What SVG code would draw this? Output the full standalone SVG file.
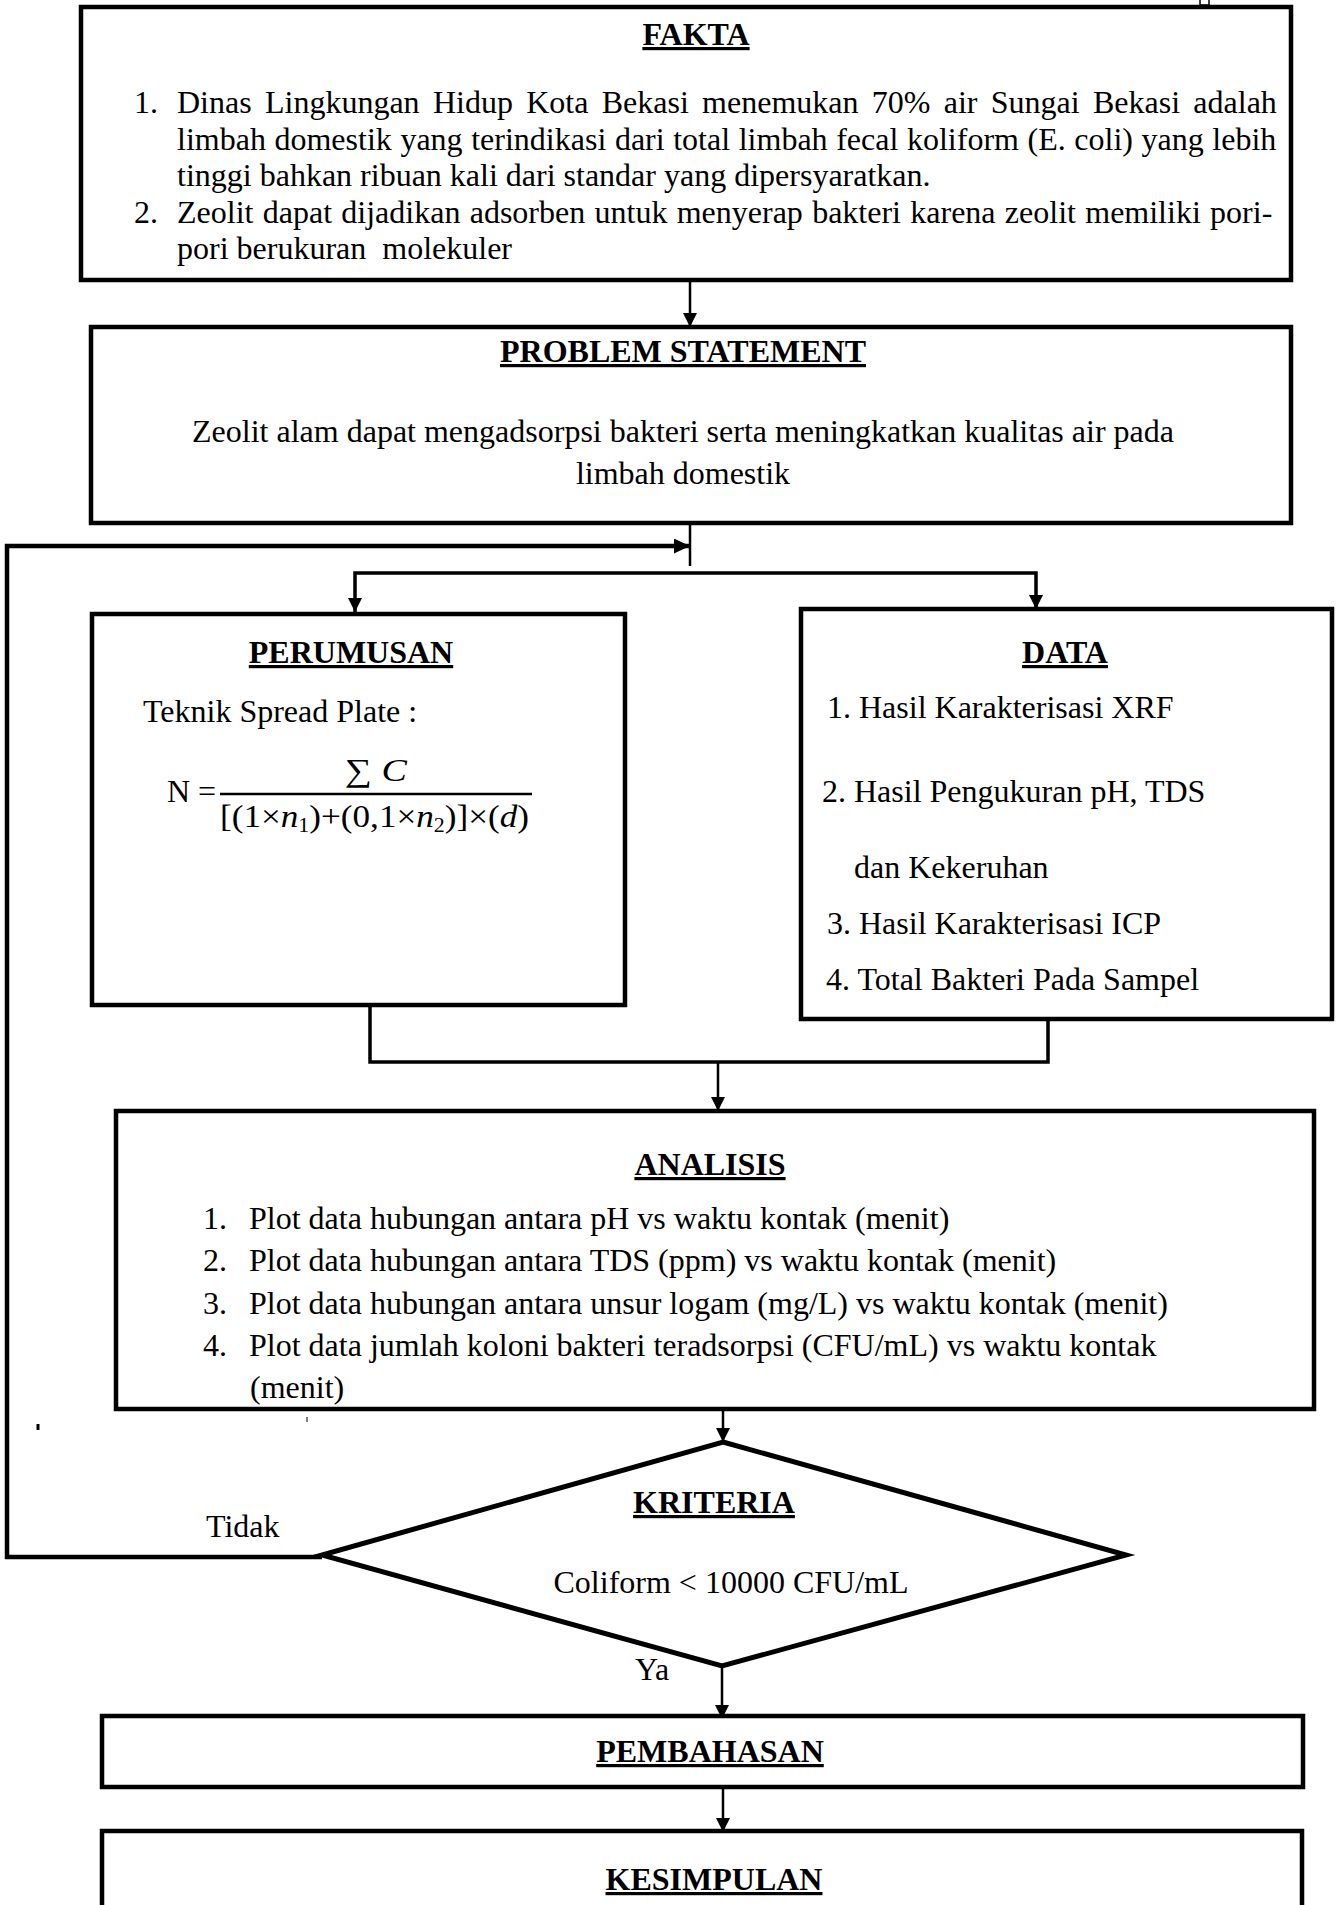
<svg xmlns="http://www.w3.org/2000/svg" width="1339" height="1905" viewBox="0 0 1339 1905">
<style>
.bg{fill:#fff}
.box{fill:#fff;stroke:#000;stroke-width:4.5}
.t{font-family:"Liberation Serif","Times New Roman","DejaVu Serif",serif;font-size:32px;fill:#000}
.h{font-weight:bold;text-anchor:middle;text-decoration:underline;text-decoration-thickness:3px}
.m{text-anchor:middle}
.c{fill:none;stroke:#000;stroke-linejoin:miter}
.thin{stroke-width:2.5}
.mid{stroke-width:3.5}
.thick{stroke-width:4.5}
</style>
<defs>
<marker id="ah" markerUnits="userSpaceOnUse" markerWidth="14" markerHeight="14" refX="14" refY="7" orient="auto-start-reverse">
<path d="M0,0 L14,7 L0,14 z" fill="#000"/>
</marker>
<marker id="ahb" markerUnits="userSpaceOnUse" markerWidth="16" markerHeight="15" refX="16" refY="7.5" orient="auto">
<path d="M0,0 L16,7.5 L0,15 z" fill="#000"/>
</marker>
</defs>
<rect class="bg" x="0" y="0" width="1339" height="1905"/>

<g id="marks" fill="none" stroke="#000">
<path d="M1200,0 V5 H1209 V0" stroke-width="1.5"/>
<line x1="38" y1="1424" x2="38" y2="1430" stroke-width="3"/>
<line x1="307" y1="1417" x2="307" y2="1422" stroke-width="1"/>
</g>

<g id="connectors">
<line class="c thin" x1="690" y1="280" x2="690" y2="327" marker-end="url(#ah)"/>
<line class="c thin" x1="690" y1="523" x2="690" y2="566"/>
<path class="c thick" d="M322,1557 H7 V546 H690" marker-end="url(#ahb)"/>
<path class="c mid" d="M355,612 V573 H1036 V609" marker-start="url(#ah)" marker-end="url(#ah)"/>
<path class="c mid" d="M370,1005 V1062 H1048 V1019"/>
<line class="c thin" x1="718" y1="1062" x2="718" y2="1111" marker-end="url(#ah)"/>
<line class="c thin" x1="723" y1="1409" x2="723" y2="1442" marker-end="url(#ah)"/>
<line class="c thin" x1="722" y1="1667" x2="722" y2="1719" marker-end="url(#ah)"/>
<line class="c thin" x1="723" y1="1789" x2="723" y2="1832" marker-end="url(#ah)"/>
</g>

<g id="fakta">
<rect class="box" x="81" y="7" width="1210" height="273"/>
<text class="t h" x="696" y="45">FAKTA</text>
<text class="t" x="134" y="113">1.</text>
<text class="t" x="177" y="113" word-spacing="5.3">Dinas Lingkungan Hidup Kota Bekasi menemukan 70% air Sungai Bekasi adalah</text>
<text class="t" x="177" y="150" word-spacing="0.6">limbah domestik yang terindikasi dari total limbah fecal koliform (E. coli) yang lebih</text>
<text class="t" x="177" y="186">tinggi bahkan ribuan kali dari standar yang dipersyaratkan.</text>
<text class="t" x="134" y="223">2.</text>
<text class="t" x="177" y="223" word-spacing="1.3">Zeolit dapat dijadikan adsorben untuk menyerap bakteri karena zeolit memiliki pori-</text>
<text class="t" x="177" y="259" xml:space="preserve">pori berukuran  molekuler</text>
</g>

<g id="problem-statement">
<rect class="box" x="91" y="327" width="1200" height="196"/>
<text class="t h" x="683" y="362">PROBLEM STATEMENT</text>
<text class="t m" x="683" y="442">Zeolit alam dapat mengadsorpsi bakteri serta meningkatkan kualitas air pada</text>
<text class="t m" x="683" y="484">limbah domestik</text>
</g>

<g id="perumusan">
<rect class="box" x="92" y="614" width="533" height="391"/>
<text class="t h" x="351" y="663">PERUMUSAN</text>
<text class="t" x="143" y="722" font-size="29.3">Teknik Spread Plate :</text>
<text class="t" x="167" y="802" font-size="29">N =</text>
<line x1="220" y1="794" x2="532" y2="794" stroke="#000" stroke-width="2.5"/>
<text class="t" x="345" y="781" font-size="29" textLength="62" lengthAdjust="spacingAndGlyphs">∑ <tspan font-style="italic">C</tspan></text>
<text class="t" x="220" y="827" font-size="27" textLength="309" lengthAdjust="spacingAndGlyphs">[(1×<tspan font-style="italic">n</tspan><tspan font-size="20" dy="5">1</tspan><tspan dy="-5">)+(0,1×</tspan><tspan font-style="italic">n</tspan><tspan font-size="20" dy="5">2</tspan><tspan dy="-5">)]×(</tspan><tspan font-style="italic">d</tspan>)</text>
</g>

<g id="data">
<rect class="box" x="801" y="609" width="531" height="410"/>
<text class="t h" x="1065" y="663">DATA</text>
<text class="t" x="827" y="718">1. Hasil Karakterisasi XRF</text>
<text class="t" x="822" y="802">2. Hasil Pengukuran pH, TDS</text>
<text class="t" x="854" y="878">dan Kekeruhan</text>
<text class="t" x="827" y="934">3. Hasil Karakterisasi ICP</text>
<text class="t" x="826" y="990">4. Total Bakteri Pada Sampel</text>
</g>

<g id="analisis">
<rect class="box" x="116" y="1111" width="1198" height="298"/>
<text class="t h" x="710" y="1175">ANALISIS</text>
<text class="t" x="203" y="1229">1.</text>
<text class="t" x="249" y="1229">Plot data hubungan antara pH vs waktu kontak (menit)</text>
<text class="t" x="203" y="1271">2.</text>
<text class="t" x="249" y="1271">Plot data hubungan antara TDS (ppm) vs waktu kontak (menit)</text>
<text class="t" x="203" y="1314">3.</text>
<text class="t" x="249" y="1314">Plot data hubungan antara unsur logam (mg/L) vs waktu kontak (menit)</text>
<text class="t" x="203" y="1356">4.</text>
<text class="t" x="249" y="1356">Plot data jumlah koloni bakteri teradsorpsi (CFU/mL) vs waktu kontak</text>
<text class="t" x="250" y="1398">(menit)</text>
</g>

<g id="kriteria">
<path d="M723,1442 L1126,1555 L722,1666 L322,1555 Z" fill="#fff" stroke="#000" stroke-width="5" stroke-linejoin="miter"/>
<text class="t h" x="714" y="1513">KRITERIA</text>
<text class="t m" x="731" y="1593">Coliform &lt; 10000 CFU/mL</text>
</g>

<g id="labels">
<text class="t" x="206" y="1537" font-size="31">Tidak</text>
<text class="t" x="635" y="1680" font-size="27">Ya</text>
</g>

<g id="pembahasan">
<rect class="box" x="102" y="1716" width="1201" height="71"/>
<text class="t h" x="710" y="1762">PEMBAHASAN</text>
</g>

<g id="kesimpulan">
<rect class="box" x="102" y="1831" width="1200" height="90"/>
<text class="t h" x="714" y="1890">KESIMPULAN</text>
</g>
</svg>
